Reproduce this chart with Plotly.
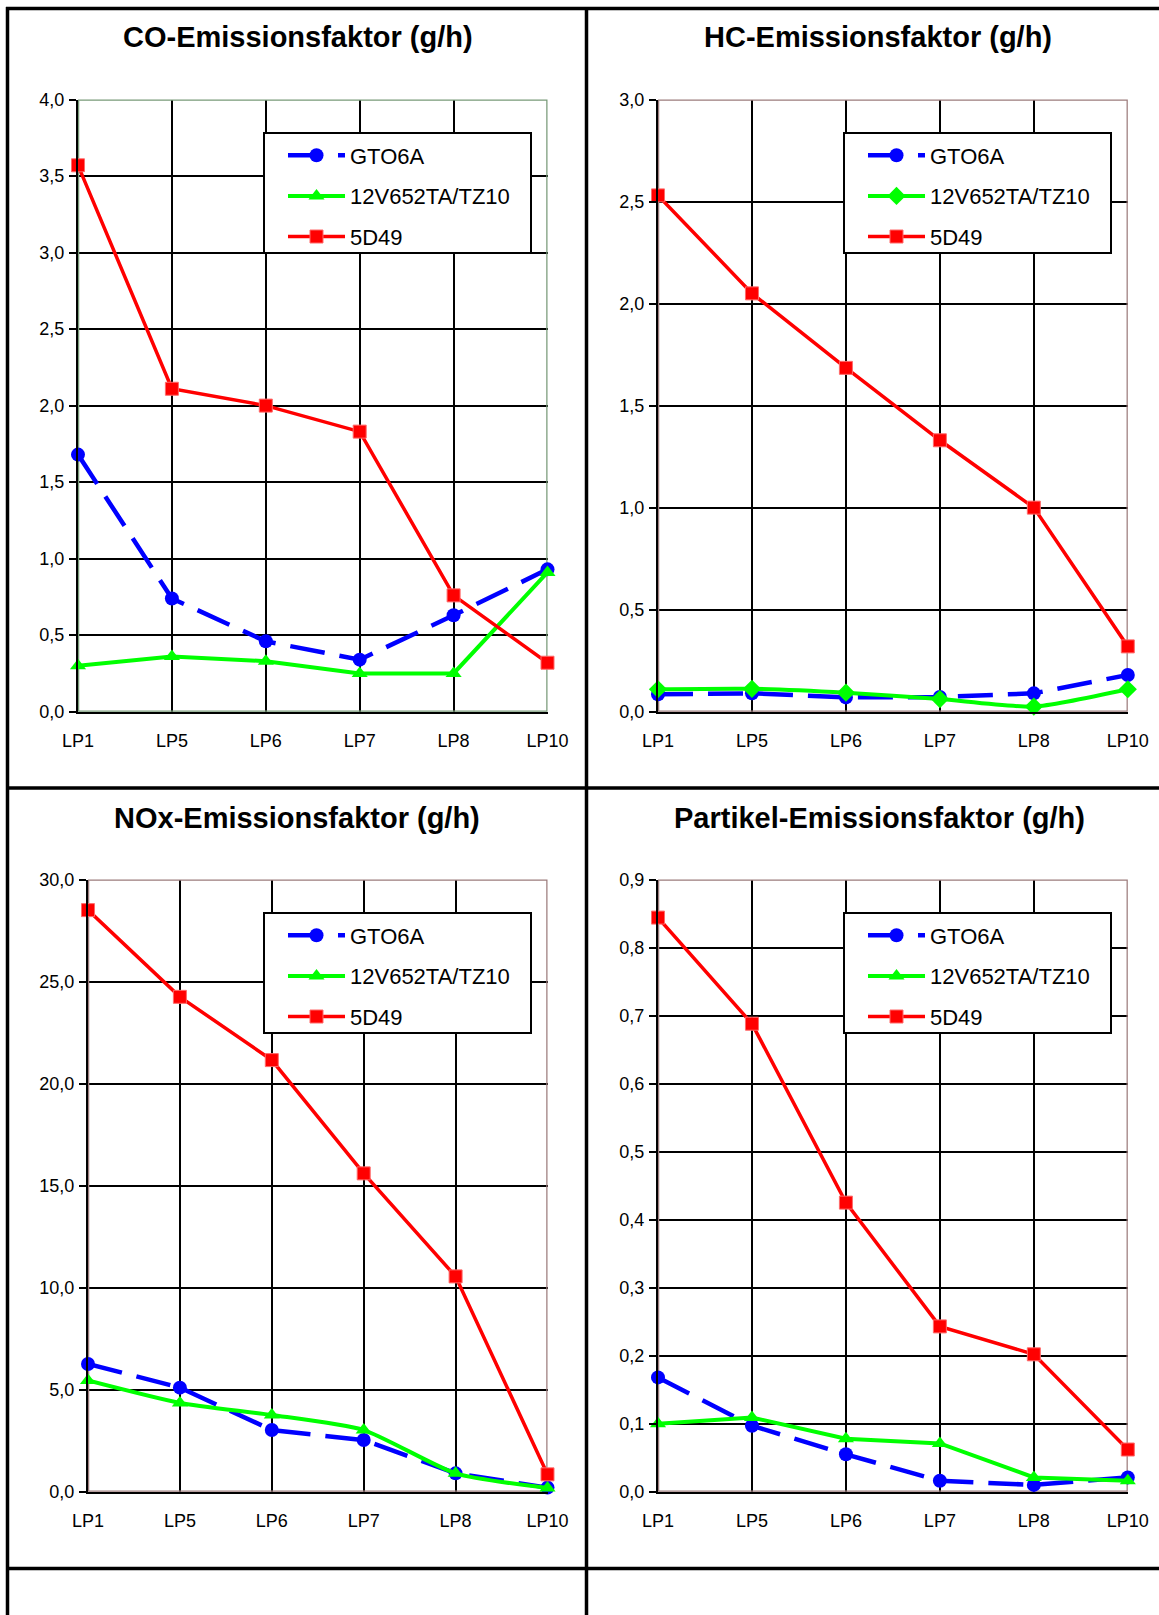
import plotly.graph_objects as go

W, H = 1159, 1615

categories = ["LP1", "LP5", "LP6", "LP7", "LP8", "LP10"]
series_names = ["GTO6A", "12V652TA/TZ10", "5D49"]

co_gto6a = [1.68, 0.74, 0.46, 0.34, 0.63, 0.93]
co_12v = [0.30, 0.36, 0.33, 0.25, 0.25, 0.91]
co_5d49 = [3.57, 2.11, 2.00, 1.83, 0.76, 0.32]

hc_gto6a = [0.085, 0.09, 0.07, 0.072, 0.09, 0.18]
hc_12v = [0.11, 0.112, 0.093, 0.062, 0.025, 0.11]
hc_5d49 = [2.53, 2.05, 1.685, 1.33, 1.00, 0.32]

nox_gto6a = [6.26, 5.10, 3.02, 2.53, 0.90, 0.20]
nox_12v = [5.45, 4.35, 3.76, 3.02, 0.90, 0.18]
nox_5d49 = [28.5, 24.25, 21.15, 15.6, 10.55, 0.85]

pm_gto6a = [0.168, 0.097, 0.055, 0.016, 0.010, 0.021]
pm_12v = [0.100, 0.109, 0.078, 0.071, 0.021, 0.016]
pm_5d49 = [0.844, 0.688, 0.425, 0.243, 0.202, 0.062]

titles = ["CO-Emissionsfaktor (g/h)", "HC-Emissionsfaktor (g/h)",
          "NOx-Emissionsfaktor (g/h)", "Partikel-Emissionsfaktor (g/h)"]
y_max = [4.0, 3.0, 30.0, 0.9]
y_dtick = [0.5, 0.5, 5.0, 0.1]

FONT = "Arial, Liberation Sans, sans-serif"

panels = [
    dict(data=[co_gto6a, co_12v, co_5d49], gsym="triangle-up", gspline=False,
         px=(78, 547.5), py=(99.5, 711.7), leg=(264, 133, 531, 253),
         title=(298, 37), border="#789a78"),
    dict(data=[hc_gto6a, hc_12v, hc_5d49], gsym="diamond", gspline=True,
         px=(658, 1127.8), py=(99.5, 711.7), leg=(844, 133, 1111, 253),
         title=(878, 37), border="#9c7c7c"),
    dict(data=[nox_gto6a, nox_12v, nox_5d49], gsym="triangle-up", gspline=True,
         px=(88, 547.5), py=(879.5, 1491.7), leg=(264, 913, 531, 1033),
         title=(297, 818), border="#9c7c7c"),
    dict(data=[pm_gto6a, pm_12v, pm_5d49], gsym="triangle-up", gspline=False,
         px=(658, 1127.8), py=(879.5, 1491.7), leg=(844, 913, 1111, 1033),
         title=(879, 818), border="#9c7c7c"),
]

fig = go.Figure()
shapes = []
annotations = []
layout = dict(
    width=W, height=H, margin=dict(l=0, r=0, t=0, b=0, pad=0, autoexpand=False),
    paper_bgcolor="white", plot_bgcolor="white",
    separators=",.", font=dict(family=FONT, color="black"),
)

def px2x(v):
    return v / W

def py2y(v):
    return 1 - v / H

for i, p in enumerate(panels):
    idx = "" if i == 0 else str(i + 1)
    xa, ya, lg = "x" + idx, "y" + idx, "legend" + idx
    gto, v12, d49 = p["data"]
    styles = [
        dict(vals=gto, color="#0000ff", width=4.5, dash="35px,15px", sym="circle", size=14, shape="linear"),
        dict(vals=v12, color="#00ff00", width=4, dash="solid", sym=p["gsym"], size=14,
             shape="spline" if p["gspline"] else "linear"),
        dict(vals=d49, color="#ff0000", width=3.5, dash="solid", sym="square", size=13, shape="linear"),
    ]
    for k, (nm, s) in enumerate(zip(series_names, styles)):
        mline = dict(color="#ff6a6a", width=1) if k == 2 else dict(width=0)
        fig.add_trace(go.Scatter(
            x=categories, y=s["vals"], name=nm, xaxis=xa, yaxis=ya, legend=lg,
            legendgroup=f"p{i}s{k}", mode="lines+markers", cliponaxis=False,
            line=dict(color=s["color"], width=s["width"], dash=s["dash"], shape=s["shape"], smoothing=0.6),
            marker=dict(symbol=s["sym"], size=s["size"], color=s["color"], line=mline),
        ))
    layout["xaxis" + idx] = dict(
        type="category", categoryorder="array", categoryarray=categories,
        range=[0, 5], domain=[px2x(p["px"][0]), px2x(p["px"][1])], anchor=ya,
        showgrid=True, gridcolor="black", gridwidth=1.8, automargin=False,
        showline=True, linecolor="black", linewidth=2, ticks="",
        ticklabelstandoff=12, tickfont=dict(size=18, family=FONT, color="black"),
        fixedrange=True,
    )
    layout["yaxis" + idx] = dict(
        range=[0, y_max[i]], dtick=y_dtick[i], tick0=0, tickformat=".1f",
        domain=[py2y(p["py"][1]), py2y(p["py"][0])], anchor=xa, automargin=False,
        showgrid=True, gridcolor="black", gridwidth=2, zeroline=False,
        showline=True, linecolor="black", linewidth=2,
        ticks="outside", ticklen=7, tickwidth=1.5, tickcolor="black",
        ticklabelstandoff=1, tickfont=dict(size=18, family=FONT, color="black"),
        fixedrange=True,
    )
    # plot-area border (top/right visible), drawn between gridlines and traces
    shapes.append(dict(type="rect", xref=xa, yref=ya,
                       x0=0, x1=len(categories) - 1, y0=0, y1=y_max[i], layer="between",
                       line=dict(color=p["border"], width=2.5), fillcolor="rgba(0,0,0,0)"))
    # legend box
    lx0, ly0, lx1, ly1 = p["leg"]
    shapes.append(dict(type="rect", xref="paper", yref="paper",
                       x0=px2x(lx0), x1=px2x(lx1), y0=py2y(ly1), y1=py2y(ly0), layer="above",
                       line=dict(color="black", width=2), fillcolor="white"))
    layout[lg] = dict(
        x=px2x(lx0 + 19), y=py2y(ly0 + 1.5), xanchor="left", yanchor="top",
        bgcolor="rgba(0,0,0,0)", borderwidth=0, itemwidth=57,
        tracegroupgap=9, font=dict(size=22, family=FONT, color="black"),
        itemclick=False, itemdoubleclick=False,
    )
    tx, ty = p["title"]
    annotations.append(dict(text="<b>" + titles[i] + "</b>", xref="paper", yref="paper",
                            x=px2x(tx), y=py2y(ty), xanchor="center", yanchor="middle",
                            showarrow=False, font=dict(size=29, family=FONT, color="black")))

# outer frame / cell dividers
frame = [
    (6, 8.5, W, 8.5), (7.5, 7, 7.5, H), (586.5, 7, 586.5, H),
    (6, 788, W, 788), (6, 1568.5, W, 1568.5),
]
for x0, y0, x1, y1 in frame:
    shapes.append(dict(type="line", xref="paper", yref="paper",
                       x0=px2x(x0), y0=py2y(y0), x1=px2x(x1), y1=py2y(y1),
                       line=dict(color="black", width=3.5), layer="above"))

layout["shapes"] = shapes
layout["annotations"] = annotations
layout["showlegend"] = True
fig.update_layout(**layout)

fig.write_html("out.html")
